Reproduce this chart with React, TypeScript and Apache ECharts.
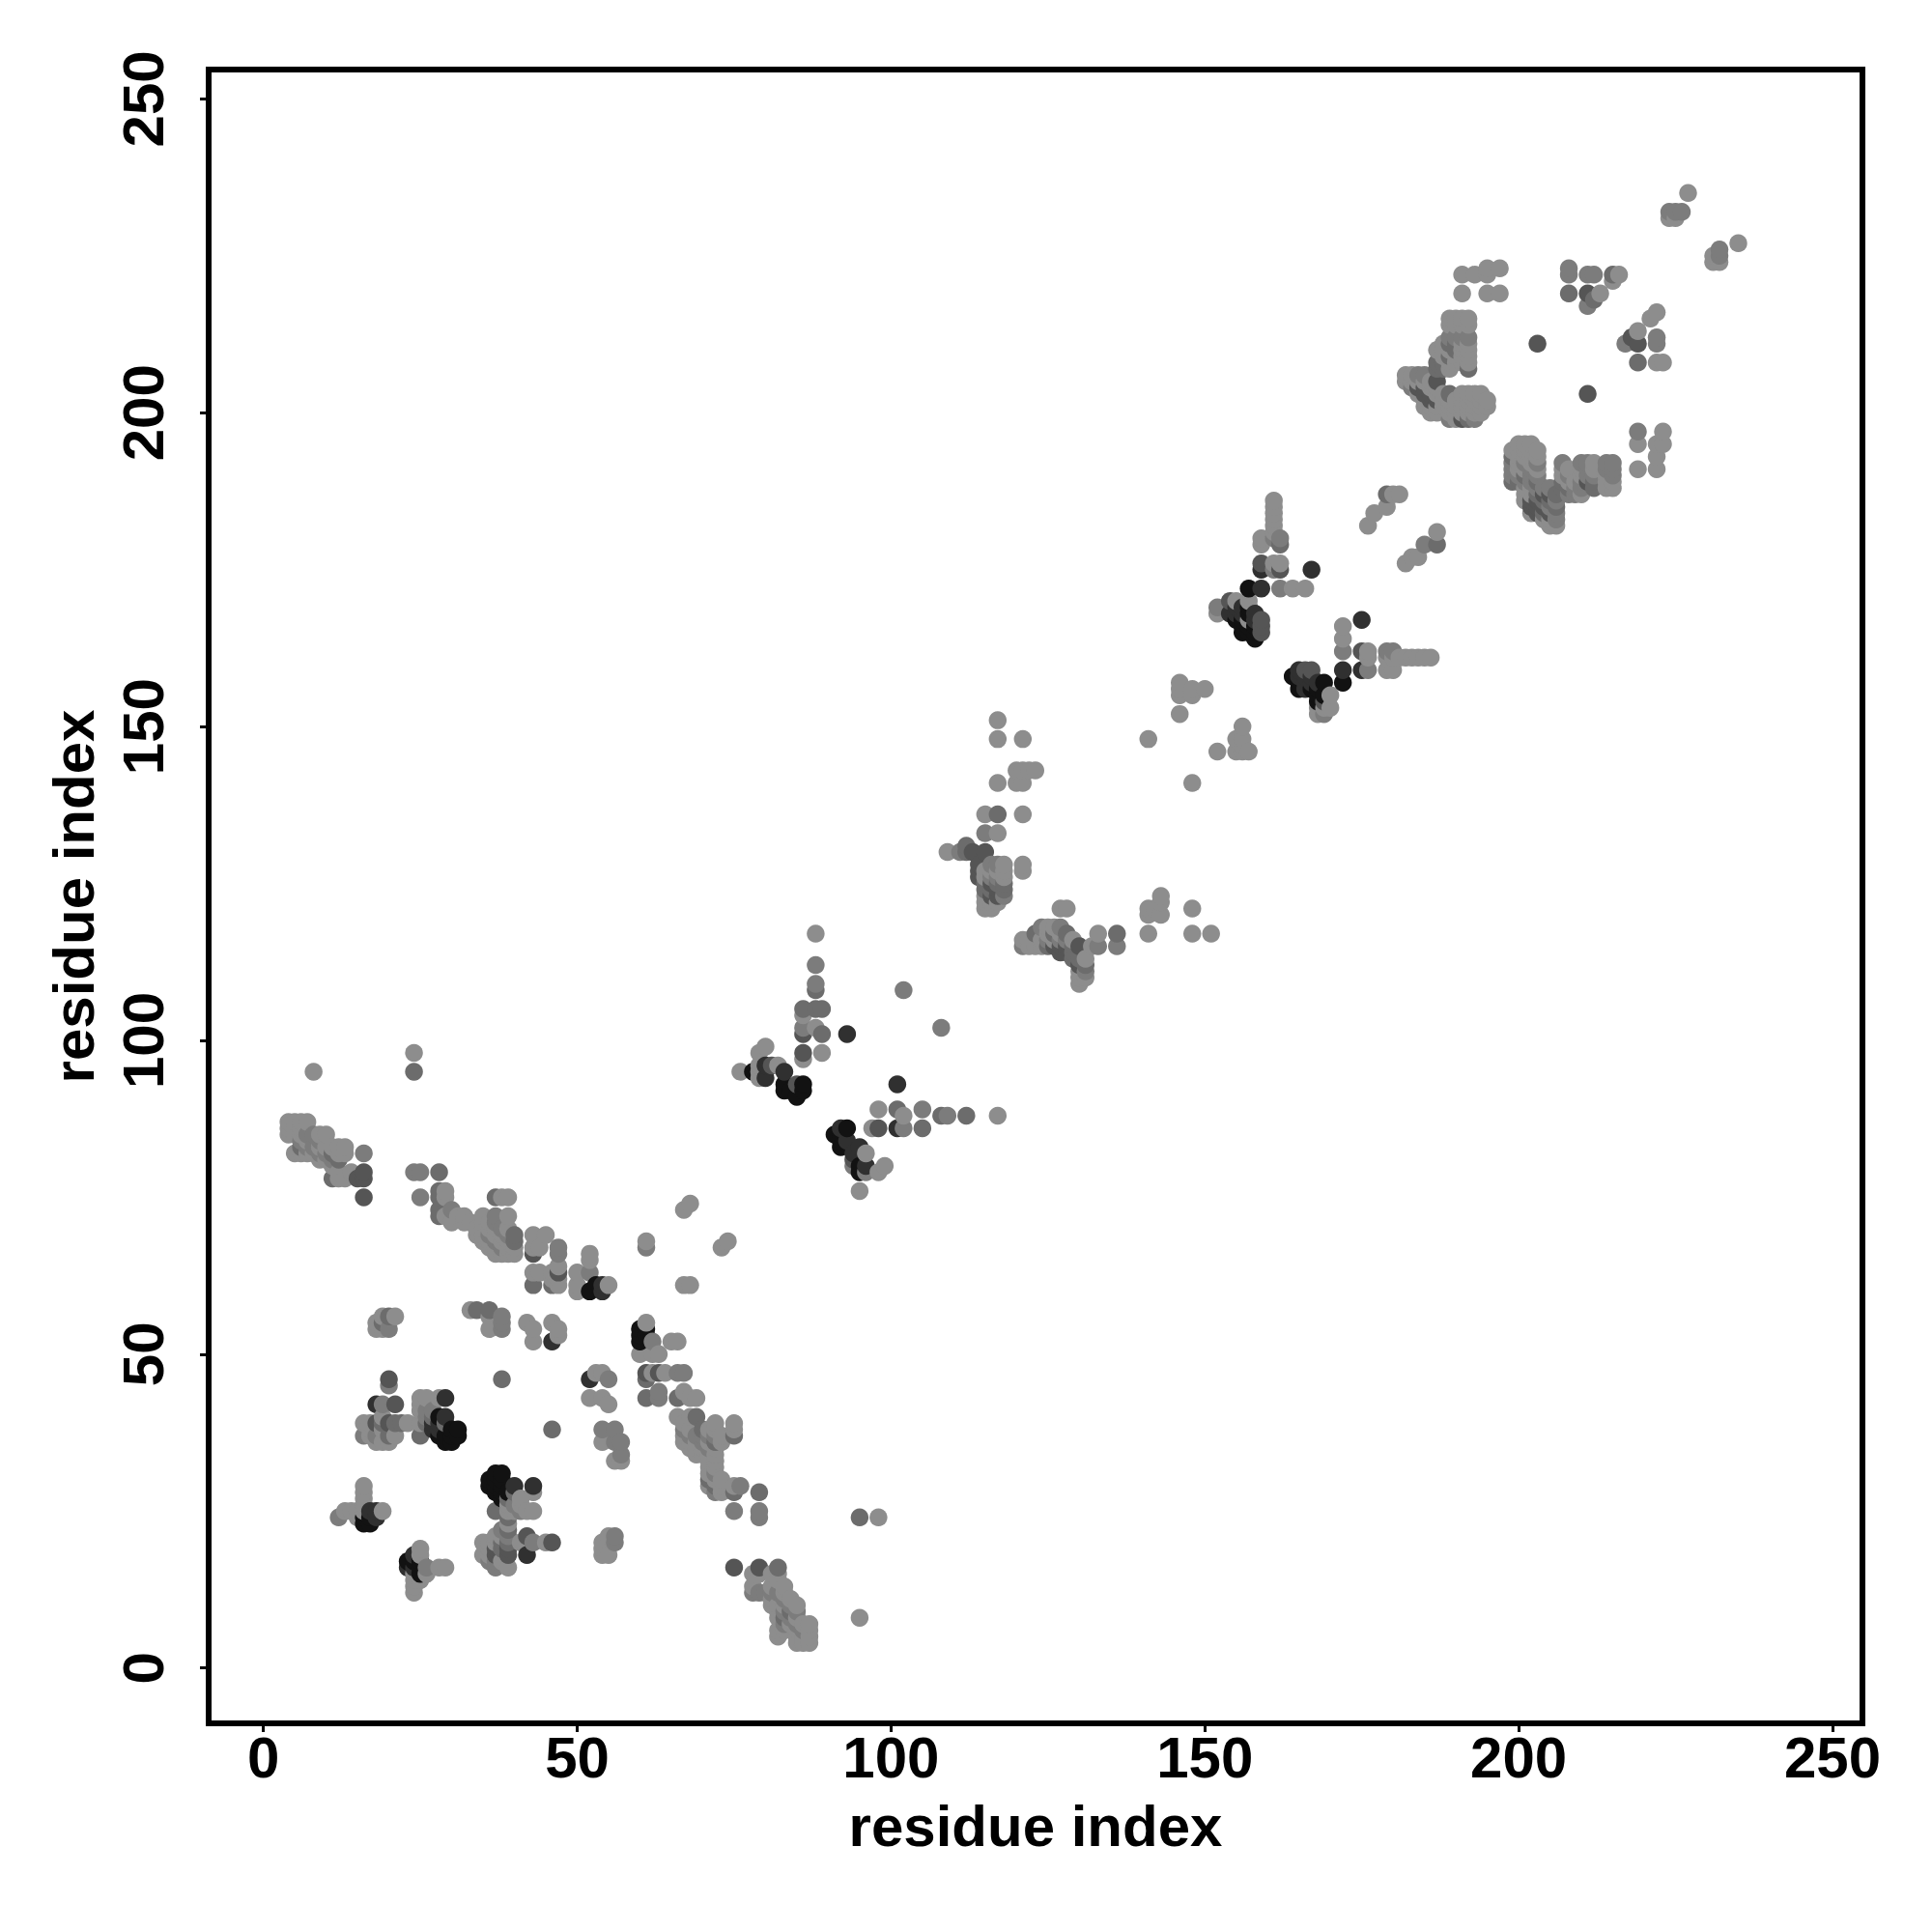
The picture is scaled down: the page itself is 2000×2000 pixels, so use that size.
import React, { useEffect, useRef } from "react";
import * as echarts from "echarts";

const xTicks = [0, 50, 100, 150, 200, 250];
const yTicks = [0, 50, 100, 150, 200, 250];
const titleText = "residue index";

const black: number[][] = [
[16,24],[16,23],[17,23],[17,24],[23,17],[24,17],[25,17],[25,16],[25,15],[28,40],[28,37],[30,38],[31,38],[31,37],[30,36],[30,37],[29,37],[29,36],[36,30],[36,29],[37,31],[38,31],[37,30],[38,30],[37,28],[38,29],[37,29],[38,28],[38,27],[39,28],
[60,54],[60,52],[60,53],[61,54],[61,53],[53,61],[52,60],[78,95],[83,92],[83,93],[86,93],[86,92],[85,91],[84,92],[91,85],[93,86],[92,83],[92,84],[92,85],[95,79],[95,80],
[157,172],[157,169],[156,165],[156,166],[158,164],[158,165],[157,168],[155,167],[156,167],[157,166],[157,165],[158,166],[164,158],[165,156],[165,157],[169,157],[168,154],[172,157],[167,156],[168,155],[168,156],[169,155]
];
const dark: number[][] = [
[17,25],[18,25],[18,24],[24,18],[24,16],[23,16],[18,42],[27,38],[27,39],[28,38],[28,39],[29,43],[29,40],[43,29],[40,29],[42,18],[46,52],[52,46],[54,61],[54,60],[80,96],[80,94],[83,95],[92,86],[93,84],[94,82],[95,83],[96,80],
[93,101],[101,93],[101,86],[154,168],[155,168],[155,169],[158,167],[158,168],[159,175],[159,172],[156,168],[156,169],[167,175],[165,159],[165,158],[168,157],[166,157],[166,156],[166,158],[167,158],[167,157],[172,159],[175,159],[175,167]
];
const mid: number[][] = [
[16,79],[16,78],[15,78],[16,75],[20,46],[21,42],[18,39],[20,39],[39,18],[42,21],[37,18],[46,20],[47,63],[43,66],[61,47],[63,47],[75,16],[79,16],
[81,96],[85,93],[86,98],[98,86],[94,81],[86,101],
[114,128],[114,127],[114,126],[113,130],[115,130],[117,123],[116,123],[127,114],[128,114],[130,115],[130,112],[159,167],[159,166],[159,165],[154,170],[162,175],[159,176],
[166,159],[167,159],[169,154],[175,162],[187,205],[184,204],[185,203],[186,202],[191,199],[203,211],[211,203],[218,212],[219,211],[202,186],[203,185],[204,187],[205,187],[211,189],[211,219]
];
const slate: number[][] = [
[24,95],[12,81],[11,78],[28,79],[28,76],[28,75],[28,73],[28,72],[37,75],[40,69],[40,68],[43,61],[46,61],[25,37],[21,39],[19,55],[19,39],[20,37],[22,39],[29,39],[20,56],[34,57],[36,57],[38,46],[46,38],[61,46],[61,43],[66,43],[69,40],[75,37],[75,28],[79,28],
[95,24],[82,16],[37,25],[39,20],[39,27],[40,28],[86,105],[88,105],[89,105],[88,108],[89,101],[101,89],[105,86],[108,88],[112,88],[123,117],[128,117],[131,112],[117,136],[112,131],[112,130],[115,124],[118,124],
[136,117],[162,179],[179,187],[187,179],[215,222],[212,218],[208,219],[219,208],[199,189],[199,193],[190,211],[189,211],[187,203],[189,203],[192,199],[203,189],[203,187],[204,186],[204,185],[204,184],[205,186],[206,185],[207,189],[208,188],[192,207],[187,208],[187,207],[129,114],[129,113],[130,114],[130,113]
];
const gray: number[][] = [
[7,85],[8,85],[7,83],[8,83],[16,82],[12,24],[20,45],[19,42],[16,37],[18,37],[24,79],[25,79],[25,75],[30,73],[37,72],[47,67],[47,66],[52,63],[61,67],
[20,54],[38,56],[38,55],[38,54],[26,41],[55,46],[54,38],[56,38],[57,36],[57,34],[56,36],[26,16],[37,16],[37,17],[36,17],[43,20],[56,21],[56,20],[79,12],[78,12],[80,12],[81,12],[82,12],[85,9],[83,9],[63,44],[63,43],[62,52],[66,47],[67,47],[70,37],[72,37],[72,28],[76,29],[75,25],[79,25],[79,24],
[88,112],[88,109],[86,102],[102,108],[108,102],[105,89],[109,88],[102,86],[96,79],[94,80],[117,128],[115,133],[111,130],[121,115],[124,118],[127,118],[125,116],[133,115],[136,115],[131,111],[116,128],[118,123],
[152,169],[159,179],[161,180],[162,180],[161,175],[162,172],[172,162],[176,159],[179,162],[180,162],[185,179],[169,152],[184,206],[185,206],[183,204],[182,205],[193,199],[189,199],[189,212],[190,212],[191,212],[192,212],
[224,232],[225,232],[226,232],[232,226],[232,225],[208,223],[208,222],[211,222],[212,222],[217,211],[222,212],[222,211],[211,217],[219,197],[203,192],[207,192],[210,192],[211,192],[211,191],[214,192],[215,192],[215,191],[206,184],[199,192],[199,191],[199,190],[200,190],[200,189],[201,189],[202,190],[202,189],[203,188],[203,186],[203,184],[205,185],[205,184],[206,186],[206,183],[204,188],[205,188],[209,188],[209,187],[208,187],[210,188],[210,189],[211,190],[212,190],[212,189],[212,188]
];
const light: number[][] = [
[8,95],[24,98],[4,87],[5,87],[6,87],[7,87],[4,85],[5,85],[6,85],[4,86],[5,86],[6,86],[7,84],[6,84],[6,83],[6,82],[7,82],[5,82],[8,82],[9,85],[9,84],[9,83],[9,82],[9,81],[10,85],[10,83],[10,82],[10,81],[11,83],[11,82],[11,81],[12,83],[12,82],[13,83],[13,82],[11,80],[12,79],[12,78],[13,78],[14,79],
[29,76],[29,75],[29,72],[30,71],[31,72],[32,72],[32,71],[33,71],[34,70],[34,69],[35,72],[35,71],[35,70],[35,69],[35,68],[36,71],[36,70],[36,69],[36,68],[36,67],[37,71],[37,68],[38,75],[38,70],[38,69],[38,67],[38,66],[37,66],[39,75],[39,72],[39,69],[39,68],[39,67],[39,66],[37,70],[37,69],[37,67],[38,68],[39,70],[40,67],[40,66],[43,69],[43,67],[44,67],[45,69],[47,64],[47,62],[47,61],[46,62],[43,63],[44,63],[46,63],[50,63],[50,61],[50,60],[52,66],[52,65],[55,61],[61,68],[61,55],
[18,55],[19,56],[21,56],[18,54],[19,54],[33,57],[36,54],[36,56],[42,55],[43,54],[43,52],[46,55],[47,54],[47,53],[16,39],[17,39],[17,38],[17,37],[19,40],[19,38],[21,37],[18,36],[19,36],[20,36],[23,39],[25,43],[25,42],[25,41],[25,39],[26,43],[26,40],[26,39],[27,41],[27,40],[28,43],[53,47],[54,47],[52,43],[54,43],[55,42],[54,36],[56,33],[57,33],
[16,29],[16,28],[16,27],[16,26],[13,25],[14,25],[15,25],[15,24],[16,25],[19,25],[25,19],[25,18],[28,16],[29,16],[24,15],[26,15],[24,14],[25,14],[24,13],[24,12],[39,26],[40,26],[40,25],[41,27],[41,26],[41,25],[43,28],[43,25],[42,25],[39,25],[39,24],[39,23],[39,22],[38,22],[39,21],[38,20],[37,20],[37,19],[36,19],[38,19],[38,17],[39,19],[39,16],[36,20],[36,18],[35,20],[35,18],[37,21],[38,21],[41,20],[45,20],[54,20],[55,21],[54,18],[55,18],[54,19],
[60,50],[63,50],[62,50],[65,52],[66,52],[62,47],[64,47],[67,44],[68,43],[69,43],[66,40],[68,40],[67,39],[67,38],[67,37],[67,36],[68,38],[68,37],[68,36],[68,35],[69,37],[69,36],[69,35],[69,34],[70,38],[70,36],[70,35],[70,34],[71,38],[71,37],[71,36],[71,35],[71,34],[72,39],[72,38],[72,36],[72,35],[72,34],[72,33],[71,33],[73,37],[73,36],[75,39],[75,38],[71,32],[72,32],[71,31],[72,31],[71,30],[72,30],[73,30],[71,29],[72,29],[73,29],[73,28],[75,29],[67,61],[68,61],[68,74],[67,73],[74,68],[73,67],
[98,24],[78,15],[79,15],[81,15],[82,15],[82,14],[81,13],[78,13],[81,11],[81,10],[82,10],[82,9],[83,13],[83,12],[83,11],[83,10],[84,11],[84,10],[84,9],[84,8],[84,7],[85,10],[85,8],[85,7],[83,8],[83,7],[83,6],[82,8],[82,6],[82,5],[85,6],[85,4],[85,5],[86,7],[86,6],[86,5],[86,4],[87,7],[87,6],[87,5],[87,4],[95,8],
[88,117],[86,97],[89,98],[80,99],[79,98],[76,95],[79,96],[79,95],[79,94],[82,96],[98,89],[102,88],[97,86],[117,88],[96,82],[98,79],[99,80],[95,76],[88,102],[86,104],
[117,151],[117,148],[121,148],[141,148],[146,152],[152,146],[120,143],[121,143],[122,143],[123,143],[120,141],[121,141],[117,141],[148,141],[115,136],[121,136],[117,133],[109,130],[118,128],[118,127],[118,126],[118,125],[117,127],[117,126],[117,125],[117,124],[116,127],[116,126],[116,125],[116,124],[115,127],[115,126],[115,123],[115,122],[115,121],[116,122],[116,121],[117,122],[121,128],[121,127],[127,121],[128,121],[141,121],[141,120],[142,121],[143,123],[143,122],[143,120],[148,121],[121,116],[122,116],[122,115],[123,115],[124,116],[124,115],[125,118],[125,117],[125,115],[126,118],[126,117],[126,116],[126,115],[127,117],[127,116],[127,115],[128,116],[128,115],[129,116],[129,115],[131,113],[130,111],[130,110],[131,110],[130,109],[133,117],[132,115],[141,117],[148,117],[151,117],
[161,186],[161,185],[161,184],[161,183],[161,182],[161,181],[159,180],[159,179],[162,176],[161,176],[152,168],[155,170],[157,170],[157,167],[164,172],[166,172],[172,166],[172,164],[176,162],[176,161],[179,159],[180,159],[179,161],[180,161],[181,161],[182,161],[183,161],[184,161],[185,161],[186,161],[170,155],[168,153],[169,153],[170,153],[168,152],
[181,187],[180,187],[179,185],[177,184],[176,182],[187,181],[184,177],[183,177],[182,176],[146,157],[146,156],[146,155],[148,156],[148,155],[150,156],[146,152],[156,150],[155,148],[156,148],[156,146],[157,146],[155,146],[156,147],[152,146],[148,141],
[227,235],[224,231],[225,231],[235,227],[231,225],[231,224],[232,224],[191,222],[193,222],[195,223],[195,222],[197,223],[191,219],[195,219],[197,219],[213,219],[216,222],[215,221],[222,216],[221,215],[219,213],[222,208],[223,208],[219,195],[223,197],[223,195],[222,195],[222,193],[219,191],[222,191],
[189,215],[190,215],[191,215],[192,215],[189,214],[190,214],[191,214],[192,214],[192,211],[192,210],[187,210],[188,211],[188,210],[188,209],[188,208],[188,207],[189,210],[189,209],[190,210],[190,209],[191,211],[191,210],[191,209],[192,209],[192,208],[189,208],[190,208],[191,208],[189,207],[182,206],[183,206],[182,205],[183,205],[184,205],[185,205],[186,205],[186,204],[185,204],[187,204],[186,203],[184,203],[185,202],[185,201],[186,200],[187,203],[187,202],[187,201],[187,200],[188,203],[188,202],[188,201],[186,201],[189,202],[189,201],[189,200],[190,202],[190,201],[190,200],[190,199],[191,202],[191,201],[191,200],[192,203],[192,202],[192,201],[192,200],[193,203],[193,202],[193,201],[193,200],[191,203],[194,203],[194,202],[194,201],[195,202],[195,201],[194,200],
[199,194],[200,195],[201,195],[202,195],[200,194],[201,194],[202,194],[203,194],[203,193],[200,193],[201,193],[202,193],[200,192],[201,192],[202,192],[200,191],[201,191],[202,191],[203,191],[201,190],[203,190],[201,188],[202,188],[202,187],[201,187],[201,186],[202,185],[202,184],[205,183],[204,183],[205,182],[206,182],[206,187],[208,191],[207,191],[207,190],[207,188],[208,190],[208,189],[209,189],[210,191],[210,190],[210,187],[212,192],[212,191],[214,191],[214,190],[214,189],[214,188],[215,190],[215,189],[215,188]
];
// Points inside dense clusters whose shade differs from the surrounding fill.
const midAccents: number[][] = [
[185,204],[186,203],[187,202],[203,186],[204,185],[205,184],[202,185],[203,184],[117,124],[116,125],[126,115],[127,115],[128,115],[37,19],[39,19]
];
const slateAccents: number[][] = [
[188,207],[188,208],[189,209],[190,210],[201,190],[200,189],[206,187],[207,188],[212,189],[212,188],[118,125],[117,125],[116,124],[115,125],[125,115],[129,115],[126,117],[6,83],[11,82],[70,38],[72,36],[72,29],[71,30],[84,9],[83,8],[38,20],[38,19],[39,22],[39,24],[26,39],[27,40]
];
const grayAccents: number[][] = [
[203,190],[202,191],[201,192],[208,190],[214,191],[215,190],[116,126],[117,126],[127,116],[128,116],[36,69],[37,68],[38,67],[39,69],[38,70],[37,71],[6,84],[9,84],[10,82],[11,81],[9,82],[69,37],[70,36],[71,37],[67,38],[68,37],[71,35],[72,31],[83,11],[84,10],[83,7],[84,8],[85,7],[86,6],[39,21],[38,22],[41,25],[40,26],[26,40],[27,41]
];

const shadeLists: [number[][], string][] = [
  [black, "#121212"], [dark, "#303030"], [mid, "#555555"], [slate, "#6c6c6c"], [gray, "#7c7c7c"], [light, "#8d8d8d"],
  [midAccents, "#555555"], [slateAccents, "#6c6c6c"], [grayAccents, "#7c7c7c"],
];

export default function App() {
  const ref = useRef<HTMLDivElement>(null);
  useEffect(() => {
    document.body.style.margin = "0";
    const chart = echarts.init(ref.current!, undefined, { renderer: "svg" });
    const byCell = new Map<string, { value: number[]; itemStyle: { color: string } }>();
    shadeLists.forEach(([pts, color]) =>
      pts.forEach((p) => byCell.set(p.join(","), { value: p, itemStyle: { color } }))
    );
    const data = [...byCell.values()].sort((a, b) => a.value[0] - b.value[0] || a.value[1] - b.value[1]);
    const label = { fontFamily: "Liberation Sans", fontWeight: "bold" as const, fontSize: 60, color: "#000" };
    const name = { fontFamily: "Liberation Sans", fontWeight: "bold" as const, fontSize: 60, color: "#000" };
    chart.setOption({
      animation: false,
      backgroundColor: "#fff",
      grid: { show: true, left: 216, top: 72, width: 1712, height: 1712, borderColor: "#000", borderWidth: 6, backgroundColor: "transparent" },
      xAxis: {
        type: "value", min: -8.72, max: 254.78, splitLine: { show: false }, axisLine: { show: false, onZero: false },
        axisTick: { show: true, length: 9, lineStyle: { width: 3, color: "#000" }, customValues: xTicks },
        axisLabel: { ...label, margin: 5, customValues: xTicks, hideOverlap: false },
        name: titleText, nameLocation: "middle", nameGap: 76, nameTextStyle: name,
      },
      yAxis: {
        type: "value", min: -8.82, max: 254.68, splitLine: { show: false }, axisLine: { show: false, onZero: false },
        axisTick: { show: true, length: 9, lineStyle: { width: 3, color: "#000" }, customValues: yTicks },
        axisLabel: { ...label, margin: 68, rotate: 90, customValues: yTicks, hideOverlap: false, verticalAlign: "middle", align: "center" },
        name: titleText, nameLocation: "middle", nameGap: 110, nameRotate: 90, nameTextStyle: name,
      },
      series: [{ type: "scatter", symbol: "circle", symbolSize: 18.5, data, clip: false, itemStyle: { opacity: 1 } }],
    });
    return () => chart.dispose();
  }, []);
  return <div ref={ref} style={{ position: "absolute", left: 0, top: 0, width: 2000, height: 2000 }} />;
}
